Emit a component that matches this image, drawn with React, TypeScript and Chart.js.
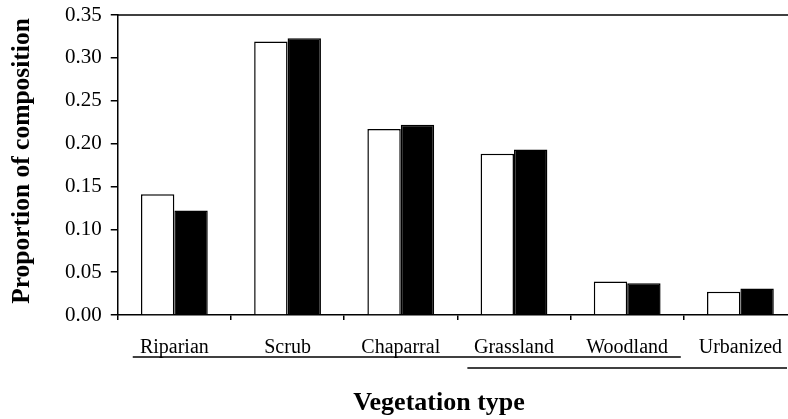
import React, { useEffect, useRef } from "react";
import { Chart, registerables } from "chart.js";

Chart.register(...registerables);

const categories = ["Riparian", "Scrub", "Chaparral", "Grassland", "Woodland", "Urbanized"];
const seriesOpen = [0.141, 0.319, 0.217, 0.188, 0.039, 0.027];
const seriesFilled = [0.122, 0.323, 0.222, 0.193, 0.037, 0.031];
const yTicks = [0, 0.05, 0.1, 0.15, 0.2, 0.25, 0.3, 0.35];
const xTitle = "Vegetation type";
const yTitle = "Proportion of composition";

const FONT = "'Liberation Serif', 'Times New Roman', serif";

const decor = {
  id: "decor",
  afterDraw(chart: any) {
    const ctx = chart.ctx;
    const { left, right, top } = chart.chartArea;
    const w = (right - left) / categories.length;
    ctx.save();
    ctx.strokeStyle = "#000";
    ctx.lineWidth = 1.5;
    // top frame line
    ctx.beginPath();
    ctx.moveTo(left, top);
    ctx.lineTo(right, top);
    ctx.stroke();
    // group underlines
    ctx.beginPath();
    ctx.moveTo(left + 15, 357);
    ctx.lineTo(left + 5 * w - 3, 357);
    ctx.stroke();
    ctx.beginPath();
    ctx.moveTo(left + 3 * w + 10, 368);
    ctx.lineTo(left + 6 * w - 10, 368);
    ctx.stroke();
    // titles
    ctx.fillStyle = "#000";
    ctx.font = `bold 26px ${FONT}`;
    ctx.textAlign = "center";
    ctx.textBaseline = "middle";
    ctx.fillText(xTitle, 439, 403);
    ctx.font = `bold 25.5px ${FONT}`;
    ctx.translate(22, 161);
    ctx.rotate(-Math.PI / 2);
    ctx.fillText(yTitle, 0, 0);
    ctx.restore();
  },
};

export default function App() {
  const ref = useRef<HTMLCanvasElement>(null);
  useEffect(() => {
    if (!ref.current) return;
    const chart = new Chart(ref.current, {
      type: "bar",
      data: {
        labels: categories,
        datasets: [
          {
            data: seriesOpen,
            backgroundColor: "#fff",
            borderColor: "#000",
            borderWidth: 1.5,
          },
          {
            data: seriesFilled,
            backgroundColor: "#000",
            borderColor: "#000",
            borderWidth: 1.5,
          },
        ],
      },
      options: {
        animation: false,
        responsive: false,
        maintainAspectRatio: false,
        layout: { padding: { left: 56, top: 15, right: 3, bottom: 43 } },
        datasets: { bar: { categoryPercentage: 0.59, barPercentage: 1 } },
        plugins: { legend: { display: false }, tooltip: { enabled: false } },
        scales: {
          x: {
            grid: { drawOnChartArea: false, drawTicks: true, tickLength: 5, color: "#000", lineWidth: 1.5 },
            border: { display: true, color: "#000", width: 1.5 },
            ticks: { color: "#000", font: { family: FONT, size: 20 }, padding: 16, maxRotation: 0 },
          },
          y: {
            min: 0,
            max: 0.35,
            afterBuildTicks: (axis: any) => {
              axis.ticks = yTicks.map((v) => ({ value: v }));
            },
            grid: { drawOnChartArea: false, drawTicks: true, tickLength: 7, color: "#000", lineWidth: 1.5 },
            border: { display: true, color: "#000", width: 1.5 },
            ticks: {
              color: "#000",
              font: { family: FONT, size: 21, lineHeight: 0.5 },
              padding: 9,
              callback: (v: any) => Number(v).toFixed(2),
            },
          },
        },
      },
      plugins: [decor],
    });
    return () => chart.destroy();
  }, []);
  return (
    <div style={{ position: "fixed", left: 0, top: 0, width: 788, height: 419, overflow: "hidden", background: "#fff" }}>
      <canvas ref={ref} width={800} height={419} style={{ display: "block" }} />
    </div>
  );
}
